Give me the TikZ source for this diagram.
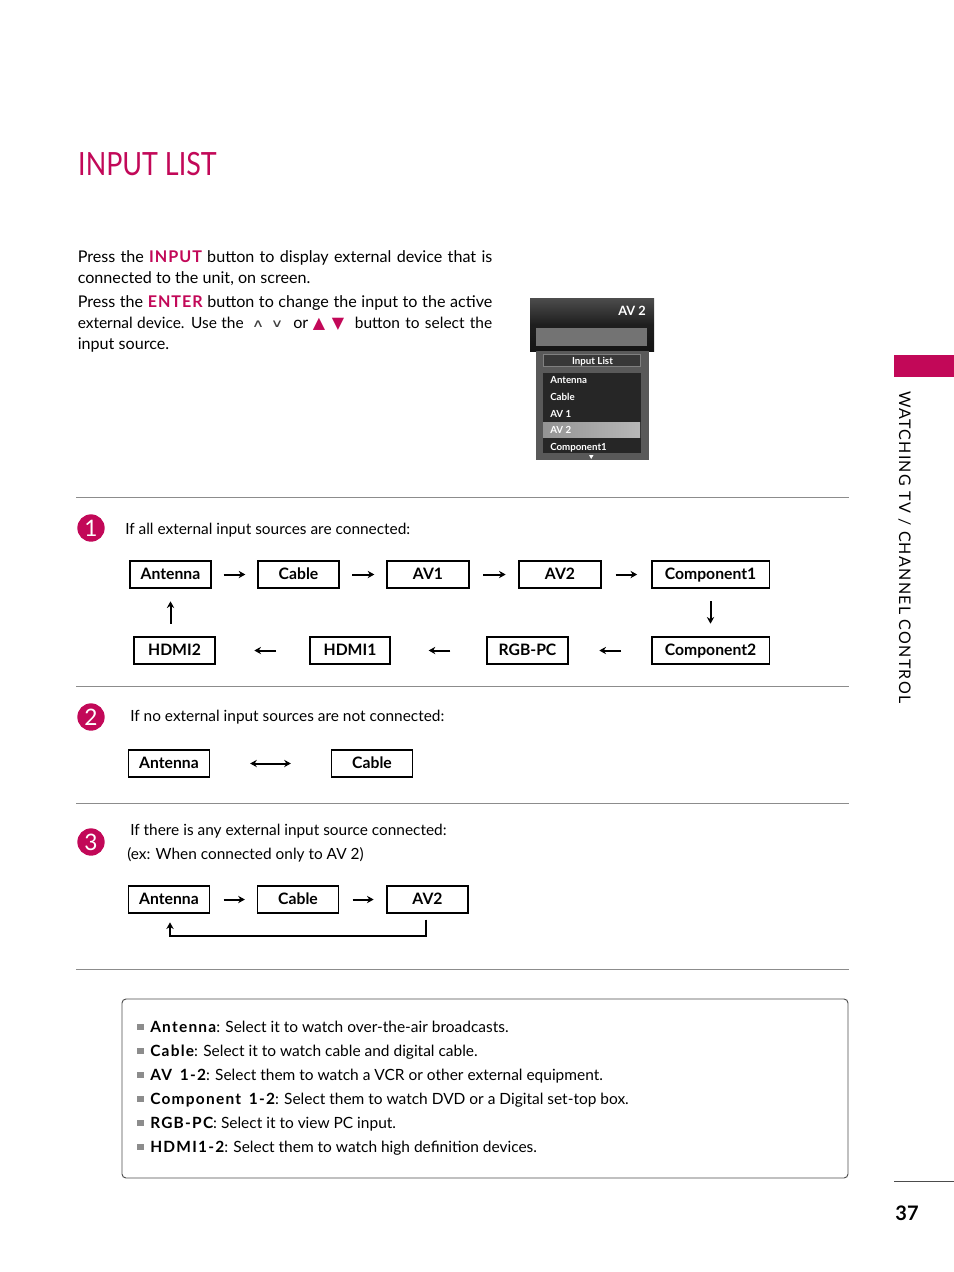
\documentclass[tikz,border=0pt]{standalone}
\usepackage{fontspec}
\setmainfont{Lato}
\newfontfamily\symfont{DejaVu Sans}
\usepackage{xcolor}
\definecolor{lgred}{RGB}{194,8,88}
\definecolor{lggray}{RGB}{140,140,140}
\definecolor{lgdark}{RGB}{38,38,38}
\usetikzlibrary{arrows.meta,positioning,calc}
\tikzset{
  bodytext/.style={anchor=base west, inner sep=0pt, font=\fontsize{12.1}{14}\selectfont},
  tighttext/.style={anchor=base west, inner sep=0pt, font=\fontsize{11.6}{14}\selectfont},
  casetext/.style={anchor=base west, inner sep=0pt, font=\fontsize{11.55}{14}\selectfont},
  listtext/.style={anchor=base west, inner sep=0pt, font=\fontsize{11.6}{14}\selectfont},
  srclabel/.style={draw=black, line width=1pt, minimum height=20.25pt, inner sep=0pt, text height=6.8pt, text depth=0pt, font=\fontsize{11.8}{14}\selectfont\bfseries},
  flowarrow/.style={-{Stealth[length=5pt,width=5.5pt]}, line width=1.5pt},
  badge/.style={circle, fill=lgred, text=white, minimum size=20.5pt, inner sep=0pt, font=\fontsize{17}{18}\selectfont},
  rulerline/.style={draw=lggray, line width=.6pt},
  squaremark/.style={fill=lggray, minimum size=5pt, inner sep=0pt},
  osdtext/.style={anchor=base west, inner sep=0pt, text=white, font=\fontsize{7.3}{8}\selectfont\bfseries},
  redmark/.style={anchor=base, inner sep=0pt, text=lgred, font=\symfont\fontsize{12}{12}\selectfont},
  greymark/.style={anchor=base, inner sep=0pt, text=black!75, xscale=1.5, font=\symfont\fontsize{8.5}{10}\selectfont},
}
\newcommand{\hotword}[1]{{\color{lgred}\addfontfeatures{LetterSpace=6}\bfseries #1}}
\newcommand{\keyword}[1]{{\addfontfeatures{LetterSpace=8}\bfseries #1}}
\begin{document}
\begin{tikzpicture}[x=.75pt,y=-.75pt]
  \useasboundingbox (0,0) rectangle (954,1272);

  %% Page title
  \node[anchor=base west, inner sep=0pt, text=lgred, xscale=.84, font=\fontsize{24}{28}\selectfont] (pagetitle) at (78,175) {INPUT LIST};

  %% Intro paragraph
  \node[bodytext] (introa) at (77.5,262) {\makebox[310.9pt][s]{Press the \hotword{INPUT} button to display external device that is}};
  \node[bodytext] (introb) at (77.5,283) {connected to the unit, on screen.};
  \node[bodytext] (introc) at (77.5,307) {\makebox[310.9pt][s]{Press the \hotword{ENTER} button to change the input to the active}};
  \node[tighttext] (introd) at (77.5,328) {\makebox[124.5pt][s]{external device. Use the}};
  \node[greymark] (chevup) at (258,327) {∧};
  \node[greymark] (chevdown) at (277,327) {∨};
  \node[bodytext] (introor) at (293,328) {or};
  \node[redmark] (triup) at (319,328) {▲};
  \node[redmark] (tridown) at (338,328) {▼};
  \node[tighttext, anchor=base east] (introf) at (492.5,328) {\makebox[103pt][s]{button to select the}};
  \node[bodytext] (introe) at (77.5,349) {input source.};

  %% Screen shot of the list
  \fill[top color=black!70, bottom color=black!92, middle color=black!88] (530,298) rectangle (654,351);
  \fill[black!55] (536,328) rectangle (647,346);
  \fill[black!65] (536,351) rectangle (649,460);
  \draw[black!50, fill=black!78] (543,354) rectangle (640,366);
  \fill[lgdark] (543,373) rectangle (641,453);
  \fill[left color=black!42, right color=black!28] (543,422) rectangle (640,437);
  \fill[white] (589,455) -- (593.5,455) -- (591.2,459) -- cycle;
  \node[osdtext, font=\fontsize{9.6}{11}\selectfont\bfseries] (osdav) at (618,315) {AV 2};
  \node[osdtext, anchor=base] (osdhead) at (592.5,364) {Input List};
  \node[osdtext] (osdant) at (550,383) {Antenna};
  \node[osdtext] (osdcab) at (550,400) {Cable};
  \node[osdtext] (osdava) at (550,417) {AV 1};
  \node[osdtext] (osdavb) at (550,433) {AV 2};
  \node[osdtext] (osdcom) at (550,450) {Component1};

  %% Rules between the cases
  \draw[rulerline] (76,497) -- (849,497);
  \draw[rulerline] (76,686) -- (849,686);
  \draw[rulerline] (76,803) -- (849,803);
  \draw[rulerline] (76,969) -- (849,969);

  %% Case 1
  \node[badge] (caseone) at (91,528) {1};
  \node[casetext] (caseonetext) at (125,534) {If all external input sources are connected:};

  \node[srclabel, minimum width=60.75pt] (antone) at (170.5,574.5) {Antenna};
  \node[srclabel, minimum width=60.75pt] (cabone) at (298.5,574.5) {Cable};
  \node[srclabel, minimum width=61.5pt] (avaone) at (428,574.5) {AV1};
  \node[srclabel, minimum width=61.5pt] (avbone) at (560,574.5) {AV2};
  \node[srclabel, minimum width=88pt] (comaone) at (710.5,574.5) {Component1};
  \node[srclabel, minimum width=88pt] (combone) at (710.5,650.5) {Component2};
  \node[srclabel, minimum width=60.75pt] (rgbone) at (527.5,650.5) {RGB-PC};
  \node[srclabel, minimum width=60pt] (hdmaone) at (350,650.5) {HDMI1};
  \node[srclabel, minimum width=60.75pt] (hdmbone) at (174.5,650.5) {HDMI2};

  %% Arrows of case 1
  \draw[flowarrow, shorten <=9pt, shorten >=9pt] (antone) -- (cabone);
  \draw[flowarrow, shorten <=9.5pt, shorten >=9pt] (cabone) -- (avaone);
  \draw[flowarrow, shorten <=10pt, shorten >=9.5pt] (avaone) -- (avbone);
  \draw[flowarrow, shorten <=10.5pt, shorten >=10.5pt] (avbone) -- (comaone);
  \draw[flowarrow, shorten <=9.5pt, shorten >=9.5pt] (comaone) -- (combone);
  \draw[flowarrow, shorten <=22.5pt, shorten >=23pt] (combone) -- (rgbone);
  \draw[flowarrow, shorten <=27pt, shorten >=28.5pt] (rgbone) -- (hdmaone);
  \draw[flowarrow, shorten <=25pt, shorten >=29pt] (hdmaone) -- (hdmbone);
  \draw[flowarrow, shorten <=9.5pt, shorten >=9.5pt] (antone.south |- hdmbone.north) -- (antone.south);

  %% Case 2
  \node[badge] (casetwo) at (91,717) {2};
  \node[casetext] (casetwotext) at (130,721) {If no external input sources are not connected:};

  \node[srclabel, minimum width=60.75pt] (anttwo) at (169,763.5) {Antenna};
  \node[srclabel, minimum width=60.75pt] (cabtwo) at (372,763.5) {Cable};
  \draw[flowarrow, {Stealth[length=5pt,width=5.5pt]}-{Stealth[length=5pt,width=5.5pt]}, shorten <=30pt, shorten >=30pt] (anttwo) -- (cabtwo);

  %% Case 3
  \node[badge] (casethree) at (91,842) {3};
  \node[casetext] (casethreetext) at (130,835) {If there is any external input source connected:};
  \node[casetext] (casethreeex) at (127,859) {(ex: When connected only to AV 2)};

  \node[srclabel, minimum width=60.75pt] (antthree) at (169,899.5) {Antenna};
  \node[srclabel, minimum width=60.75pt] (cabthree) at (298,899.5) {Cable};
  \node[srclabel, minimum width=60.75pt] (avbthree) at (427.5,899.5) {AV2};
  \coordinate (returnmid) at (298,936);

  \draw[flowarrow, shorten <=10pt, shorten >=9pt] (antthree) -- (cabthree);
  \draw[flowarrow, shorten <=10pt, shorten >=9.5pt] (cabthree) -- (avbthree);
  \draw[flowarrow, shorten <=4.5pt, shorten >=6.5pt] ([xshift=-1.1pt]avbthree.south) |- (returnmid) -| ([xshift=.75pt]antthree.south);

  %% Notes box
  \draw[draw=black!70, line width=.7pt, rounded corners=3pt] (122,999) rectangle (848,1178);

  \node[squaremark] (marka) at (140.5,1027) {};
  \node[squaremark] (markb) at (140.5,1051) {};
  \node[squaremark] (markc) at (140.5,1075) {};
  \node[squaremark] (markd) at (140.5,1099) {};
  \node[squaremark] (marke) at (140.5,1123) {};
  \node[squaremark] (markf) at (140.5,1147) {};

  \node[listtext] (notea) at (150,1032) {\keyword{Antenna}: Select it to watch over-the-air broadcasts.};
  \node[listtext] (noteb) at (150,1056) {\keyword{Cable}: Select it to watch cable and digital cable.};
  \node[listtext] (notec) at (150,1080) {\keyword{AV\,\,\,1-2}: Select them to watch a VCR or other external equipment.};
  \node[listtext] (noted) at (150,1104) {\keyword{Component\,\,\,1-2}: Select them to watch DVD or a Digital set-top box.};
  \node[listtext] (notee) at (150,1128) {\keyword{RGB-PC}: Select it to view PC input.};
  \node[listtext] (notef) at (150,1152) {\keyword{HDMI1-2}: Select them to watch high definition devices.};

  %% Side tab and page number
  \fill[lgred] (894,355) rectangle (954,377);
  \node[rotate=-90, anchor=base west, inner sep=0pt, font=\fontsize{12}{14}\selectfont, text=black] (sidelabel) at (899,391) {\addfontfeatures{LetterSpace=8}WATCHING TV / CHANNEL CONTROL};
  \draw[draw=black!70, line width=.6pt] (894,1181) -- (954,1181);
  \node[font=\fontsize{15}{16}\selectfont\bfseries, inner sep=0pt] (pagenum) at (907,1213) {37};
\end{tikzpicture}
\end{document}
